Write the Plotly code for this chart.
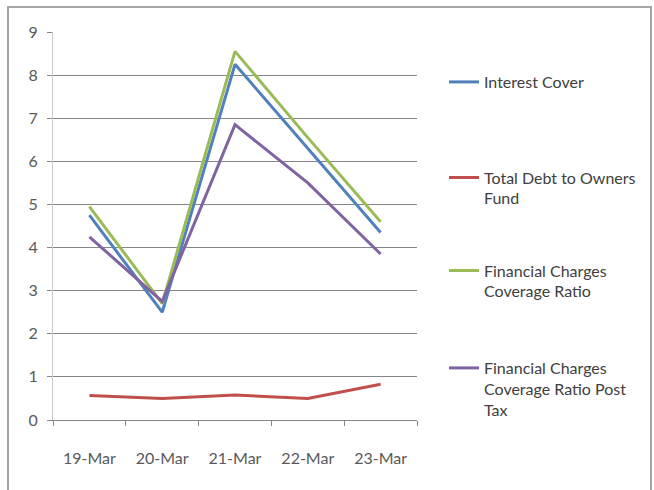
import plotly.graph_objects as go

categories = ["19-Mar", "20-Mar", "21-Mar", "22-Mar", "23-Mar"]
interest_cover = [4.75, 2.5, 8.25, 6.3, 4.35]
debt_to_owners = [0.57, 0.5, 0.58, 0.5, 0.83]
fin_charges_cov = [4.95, 2.7, 8.55, 6.55, 4.6]
fin_charges_cov_post_tax = [4.25, 2.75, 6.85, 5.5, 3.85]

series = [
    ("Interest Cover", interest_cover, "#4F81BD", "legend"),
    ("Total Debt to Owners<br>Fund", debt_to_owners, "#C0504D", "legend2"),
    ("Financial Charges<br>Coverage Ratio", fin_charges_cov, "#9BBB59", "legend3"),
    ("Financial Charges<br>Coverage Ratio Post<br>Tax", fin_charges_cov_post_tax, "#8064A2", "legend4"),
]

FONT = "Lato"
FS = 16
fig = go.Figure()
for name, vals, color, lg in series:
    fig.add_trace(go.Scatter(
        x=categories, y=vals, name=name, mode="lines",
        line=dict(color=color, width=3), legend=lg,
    ))

# plot area: x 53..417, y 32..420
def py(p):
    return (420 - p) / 388

leg_x = (444 - 53) / 364
leg_common = dict(x=leg_x, xanchor="left", yanchor="middle", bgcolor="rgba(0,0,0,0)",
                  font=dict(family=FONT, size=FS, color="#404040"), valign="top")

fig.update_layout(
    width=654, height=490,
    margin=dict(l=53, r=237, t=32, b=70),
    paper_bgcolor="white", plot_bgcolor="white",
    font=dict(family=FONT, size=FS, color="#595959"),
    showlegend=True,
    legend=dict(y=py(82), **leg_common),
    legend2=dict(y=py(188), **leg_common),
    legend3=dict(y=py(281), **leg_common),
    legend4=dict(y=py(389), **leg_common),
    xaxis=dict(
        type="category", range=[-0.5, 4.5],
        showline=True, linecolor="#868686", linewidth=1,
        ticks="outside", tickson="boundaries", ticklen=5, tickcolor="#868686",
        showgrid=False, zeroline=False, ticklabelstandoff=24,
        tickfont=dict(family=FONT, size=FS, color="#595959"),
    ),
    yaxis=dict(
        range=[0, 9], dtick=1, tick0=0,
        showline=True, linecolor="#c8c8c8", linewidth=1,
        ticks="outside", ticklen=5, tickcolor="#868686",
        showgrid=True, gridcolor="#868686", gridwidth=1,
        zeroline=False, ticklabelstandoff=6,
        tickfont=dict(family=FONT, size=FS, color="#595959"),
    ),
    shapes=[dict(
        type="rect", xref="paper", yref="paper",
        x0=(8 - 53) / 364, x1=(651 - 53) / 364,
        y0=py(495), y1=py(7),
        line=dict(color="#a6a6a6", width=2), fillcolor="rgba(0,0,0,0)",
        layer="below",
    )],
)

fig.write_html("out.html")
